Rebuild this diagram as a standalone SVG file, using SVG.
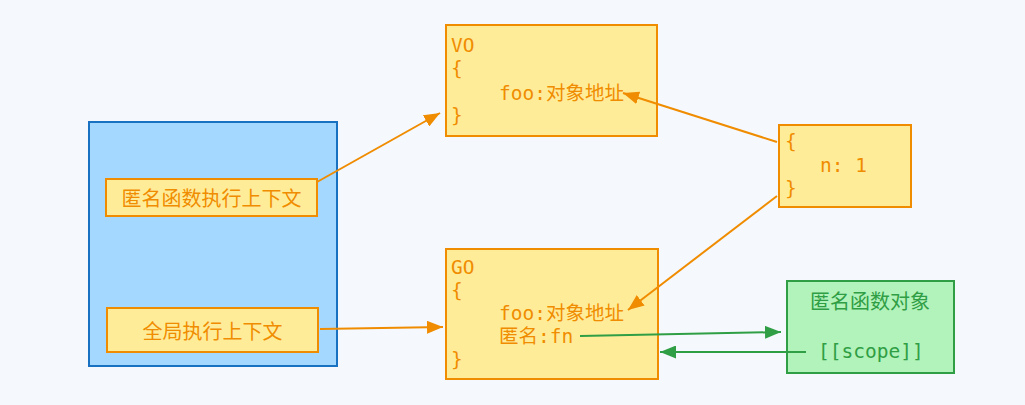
<svg xmlns="http://www.w3.org/2000/svg" width="1025" height="405" viewBox="0 0 1025 405">
<style>
.bg{fill:#f5f9fd}
.ctx{fill:#a5d8ff;stroke:#1971c2;stroke-width:2}
.obj{fill:#ffec99;stroke:#f08c00;stroke-width:2}
.gobj{fill:#b2f2bb;stroke:#2f9e44;stroke-width:2}
.mono{font-family:"DejaVu Sans Mono","Noto Sans CJK SC",monospace;font-size:19.5px;fill:#f08c00}
.lbl{font-family:"Noto Sans CJK SC","Noto Sans",sans-serif;font-size:20px;fill:#f08c00;text-anchor:middle;dominant-baseline:central}
.gl{font-family:"Noto Sans CJK SC","Noto Sans",sans-serif;font-size:20px;fill:#2f9e44;text-anchor:middle}
.gm{font-family:"DejaVu Sans Mono","Noto Sans CJK SC",monospace;font-size:19.5px;fill:#2f9e44}
.eo{stroke:#f08c00;stroke-width:2;fill:none;marker-end:url(#ao)}
.eg{stroke:#2f9e44;stroke-width:2;fill:none;marker-end:url(#ag)}
</style>
<defs>
<marker id="ao" viewBox="0 0 10 10" refX="10" refY="5" markerWidth="16" markerHeight="13" markerUnits="userSpaceOnUse" orient="auto" preserveAspectRatio="none"><path d="M0,0 L10,5 L0,10 z" fill="#f08c00"/></marker>
<marker id="ag" viewBox="0 0 10 10" refX="10" refY="5" markerWidth="16" markerHeight="13" markerUnits="userSpaceOnUse" orient="auto" preserveAspectRatio="none"><path d="M0,0 L10,5 L0,10 z" fill="#2f9e44"/></marker>
</defs>
<rect class="bg" x="0" y="0" width="1025" height="405"/>
<g id="stack"><rect class="ctx" x="89" y="122" width="248" height="244"/></g>
<g id="anonCtx"><rect class="obj" x="106" y="179" width="211" height="37"/><text class="lbl" x="211.5" y="197.5">匿名函数执行上下文</text></g>
<g id="globalCtx"><rect class="obj" x="107" y="308" width="211" height="44"/><text class="lbl" x="212.5" y="330">全局执行上下文</text></g>
<g id="vo"><rect class="obj" x="446" y="25" width="211" height="111"/>
<text class="mono" x="451" y="52">VO</text>
<text class="mono" x="451" y="75">{</text>
<text class="mono" x="499" y="100">foo:对象地址</text>
<text class="mono" x="451" y="122">}</text></g>
<g id="nobj"><rect class="obj" x="779" y="125" width="132" height="82"/>
<text class="mono" x="785" y="148">{</text>
<text class="mono" x="820" y="172">n: 1</text>
<text class="mono" x="785" y="195">}</text></g>
<g id="go"><rect class="obj" x="446" y="249" width="212" height="130"/>
<text class="mono" x="451" y="274">GO</text>
<text class="mono" x="451" y="297">{</text>
<text class="mono" x="499" y="320">foo:对象地址</text>
<text class="mono" x="499" y="343">匿名:fn</text>
<text class="mono" x="451" y="366">}</text></g>
<g id="fnobj"><rect class="gobj" x="787" y="281" width="167" height="92"/>
<text class="gl" x="870" y="309">匿名函数对象</text>
<text class="gm" x="818" y="358">[[scope]]</text></g>
<g id="connectors">
<path class="eo" d="M317,182 L440,113"/>
<path class="eo" d="M777,142 L623,93"/>
<path class="eo" d="M777,196 L628,310"/>
<path class="eo" d="M320,329 L443,327"/>
<path class="eg" d="M580,336 L781,332"/>
<path class="eg" d="M806,352 L660,352"/>
</g>
</svg>
